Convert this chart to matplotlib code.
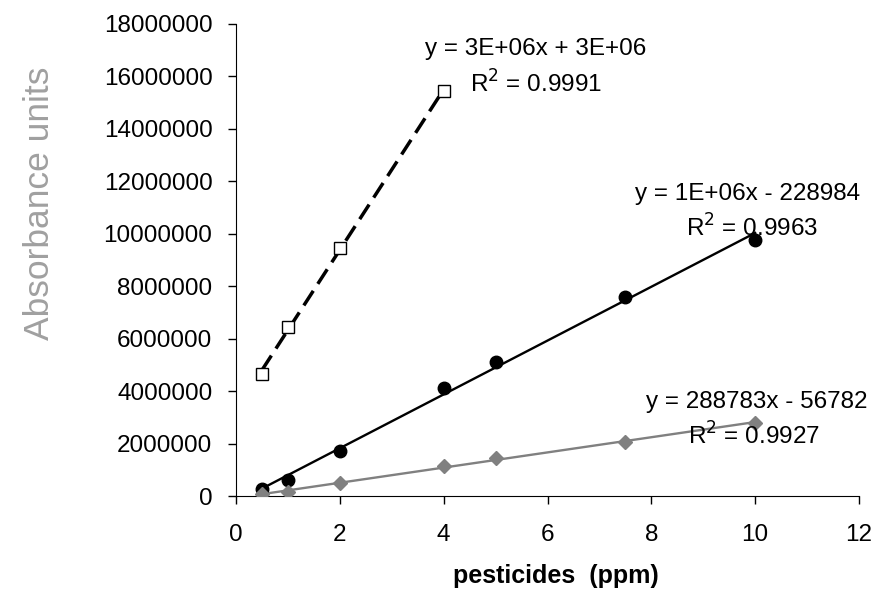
import numpy as np
import matplotlib.pyplot as plt

plt.rcParams['font.family'] = ['Liberation Sans', 'DejaVu Sans']

# data (ppm vs absorbance)
x_sq = [0.5, 1, 2, 4]
y_sq = [4650000, 6450000, 9470000, 15450000]

x_dot = [0.5, 1, 2, 4, 5, 7.5, 10]
y_dot = [270000, 600000, 1700000, 4120000, 5120000, 7600000, 9770000]

x_dia = [0.5, 1, 2, 4, 5, 7.5, 10]
y_dia = [70000, 150000, 500000, 1150000, 1450000, 2050000, 2800000]

eq_labels = ['y = 3E+06x + 3E+06', 'y = 1E+06x - 228984', 'y = 288783x - 56782']
r2_labels = ['R$^2$ = 0.9991', 'R$^2$ = 0.9963', 'R$^2$ = 0.9927']

fig = plt.figure(figsize=(8.76, 5.91), dpi=100)
ax = fig.add_axes([0.2694, 0.1607, 0.7112, 0.7987])


def trend(x, y):
    k, b = np.polyfit(x, y, 1)
    xx = np.array([min(x), max(x)])
    return xx, k * xx + b


xx, yy = trend(x_sq, y_sq)
ax.plot(xx, yy, color='black', lw=2.5, ls=(0, (5, 2.4)), zorder=2)
ax.plot(x_sq, y_sq, ls='none', marker='s', ms=8, mfc='white', mec='black', mew=1, zorder=3)

xx, yy = trend(x_dot, y_dot)
ax.plot(xx, yy, color='black', lw=1.7, zorder=2)
ax.plot(x_dot, y_dot, ls='none', marker='o', ms=9, color='black', zorder=3)

xx, yy = trend(x_dia, y_dia)
ax.plot(xx, yy, color='#808080', lw=1.7, zorder=2)
ax.plot(x_dia, y_dia, ls='none', marker='D', ms=7, color='#808080', zorder=3)

fs = 17.5
# equation / R2 labels (centre x, baseline y in data units)
eq_pos = [(5.78, 16820000), (9.86, 11290000), (10.03, 3356000)]
r2_pos = [(5.78, 15370000), (9.94, 9880000), (9.98, 1945000)]
for lab, (tx, ty) in zip(eq_labels, eq_pos):
    ax.text(tx, ty, lab, fontsize=fs, ha='center', va='baseline', clip_on=False)
for lab, (tx, ty) in zip(r2_labels, r2_pos):
    ax.text(tx, ty, lab, fontsize=fs, ha='center', va='baseline', clip_on=False)

ax.set_xlim(0, 12)
ax.set_ylim(0, 18000000)
ax.set_xticks(range(0, 13, 2))
ax.set_yticks(range(0, 18000001, 2000000))
ax.set_yticklabels([str(v) for v in range(0, 18000001, 2000000)])
ax.tick_params(labelsize=fs, length=6, width=1, pad=11)
ax.tick_params(axis='x', pad=14)
ax.spines['top'].set_visible(False)
ax.spines['right'].set_visible(False)

fig.text(556 / 876, 1 - 583 / 591, 'pesticides  (ppm)', fontsize=18, fontweight='bold',
         ha='center', va='baseline')
fig.text(40 / 876, 1 - 203 / 591, 'Absorbance units', rotation=90, fontsize=25.5,
         color='#a0a0a0', ha='center', va='center')

fig.savefig('out.png', dpi=100)
